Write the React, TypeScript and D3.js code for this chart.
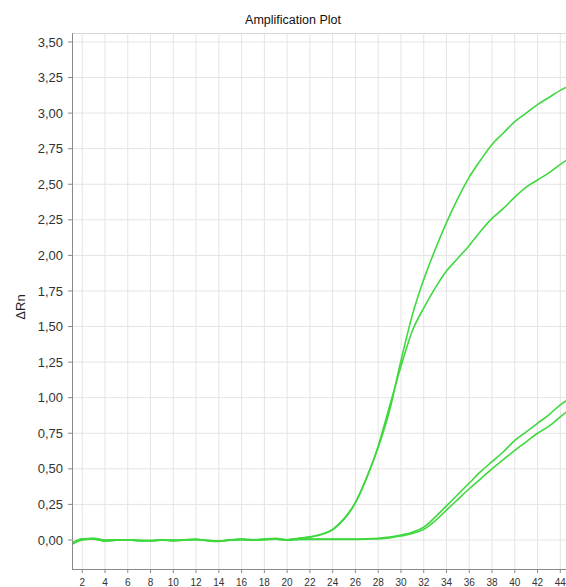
import React from 'react';
import * as d3 from 'd3';

const cycles = [1, 2, 3, 4, 5, 6, 7, 8, 9, 10, 11, 12, 13, 14, 15, 16, 17, 18, 19, 20, 21, 22, 23, 24, 25, 26, 27, 28, 29, 30, 31, 32, 33, 34, 35, 36, 37, 38, 39, 40, 41, 42, 43, 44, 45];

const wellA = [-0.03, 0.005, 0.01, -0.005, 0.0, 0.0, -0.004, -0.004, 0.0, -0.003, 0.002, 0.005, -0.004, -0.008, 0.0, 0.004, 0.0, 0.006, 0.012, 0.002, 0.012, 0.022, 0.04, 0.075, 0.15, 0.265, 0.44, 0.65, 0.91, 1.26, 1.58, 1.83, 2.04, 2.23, 2.4, 2.55, 2.67, 2.78, 2.86, 2.94, 3.0, 3.06, 3.11, 3.16, 3.2];
const wellB = [-0.025, 0.008, 0.012, 0.0, 0.002, 0.0, -0.002, -0.006, -0.002, 0.0, 0.0, 0.003, -0.002, -0.006, 0.002, 0.006, 0.002, 0.004, 0.008, 0.0, 0.01, 0.02, 0.038, 0.072, 0.145, 0.26, 0.44, 0.66, 0.94, 1.22, 1.47, 1.63, 1.77, 1.89, 1.98, 2.07, 2.17, 2.26, 2.33, 2.41, 2.48, 2.53, 2.58, 2.64, 2.69];
const wellC = [-0.035, 0.0, 0.008, -0.008, -0.002, 0.0, -0.006, -0.004, -0.002, -0.006, -0.002, 0.002, -0.006, -0.01, -0.002, 0.002, -0.002, 0.002, 0.006, -0.002, 0.004, 0.006, 0.006, 0.006, 0.006, 0.006, 0.008, 0.012, 0.02, 0.035, 0.055, 0.09, 0.16, 0.24, 0.32, 0.4, 0.48, 0.55, 0.62, 0.7, 0.76, 0.82, 0.88, 0.95, 1.0];
const wellD = [-0.03, 0.004, 0.006, -0.006, 0.0, 0.002, -0.004, -0.006, 0.0, -0.004, 0.0, 0.004, -0.004, -0.008, 0.0, 0.004, 0.0, 0.004, 0.006, 0.0, 0.004, 0.004, 0.004, 0.004, 0.004, 0.004, 0.006, 0.008, 0.015, 0.028, 0.045, 0.075, 0.135, 0.21, 0.285, 0.36, 0.43, 0.5, 0.565, 0.63, 0.69, 0.75, 0.8, 0.865, 0.93];

const xTicks = [2, 4, 6, 8, 10, 12, 14, 16, 18, 20, 22, 24, 26, 28, 30, 32, 34, 36, 38, 40, 42, 44];
const yTicks = [0, 0.25, 0.5, 0.75, 1.0, 1.25, 1.5, 1.75, 2.0, 2.25, 2.5, 2.75, 3.0, 3.25, 3.5];

const width = 566, height = 587;
const margin = { top: 33, right: 0, bottom: 18, left: 72 };
const font = 'Arial, "Liberation Sans", sans-serif';

const App = () => {
  const x = d3.scaleLinear()
    .domain([1.1, 44.5])
    .range([margin.left, width - margin.right]);
  const y = d3.scaleLinear()
    .domain([-0.204, 3.563])
    .range([height - margin.bottom, margin.top]);

  const line = d3.line<number>()
    .x((d, i) => x(cycles[i]))
    .y(d => y(d))
    .curve(d3.curveMonotoneX);

  const fmt = (v: number) => v.toFixed(2).replace('.', ',');
  const x0 = margin.left, x1 = width - margin.right;
  const y0 = height - margin.bottom, y1 = margin.top;

  return (
    <svg width={width} height={height} style={{ position: 'absolute', left: 0, top: 0, background: '#fff' }}>
      <defs>
        <clipPath id="plot">
          <rect x={x0 + 1} y={y1} width={x1 - x0} height={y0 - y1} />
        </clipPath>
      </defs>
      <rect width={width} height={height} fill="#fff" />

      <text x={293} y={24} textAnchor="middle" fontFamily={font} fontSize={12.5} fill="#111">
        Amplification Plot
      </text>

      {/* grid */}
      {xTicks.map(t => (
        <line key={'gx' + t} x1={x(t)} x2={x(t)} y1={y1} y2={y0} stroke="#e4e4e4" />
      ))}
      {yTicks.map(t => (
        <line key={'gy' + t} x1={x0} x2={x1} y1={y(t)} y2={y(t)} stroke="#e4e4e4" />
      ))}
      <line x1={x0} x2={x1} y1={y1 + 0.5} y2={y1 + 0.5} stroke="#d8d8d8" />

      {/* curves */}
      <g clipPath="url(#plot)" fill="none" stroke="#3fd83f" strokeWidth={1.6}>
        {[wellA, wellB, wellC, wellD].map((w, i) => (
          <path key={i} d={line(w) || ''} />
        ))}
      </g>

      {/* axes */}
      <line x1={x0 + 0.5} x2={x0 + 0.5} y1={y1} y2={y0} stroke="#8a8a8a" />
      <line x1={x0} x2={x1} y1={y0 + 0.5} y2={y0 + 0.5} stroke="#8a8a8a" />
      {yTicks.map(t => (
        <g key={'ty' + t}>
          <line x1={x0 - 4} x2={x0} y1={y(t)} y2={y(t)} stroke="#8a8a8a" />
          <text x={63} y={y(t)} dy="0.35em" textAnchor="end" fontFamily={font} fontSize={13} fill="#333">
            {fmt(t)}
          </text>
        </g>
      ))}
      {xTicks.map(t => (
        <g key={'tx' + t}>
          <line x1={x(t)} x2={x(t)} y1={y0} y2={y0 + 4} stroke="#8a8a8a" />
          <text x={x(t)} y={586} textAnchor="middle" fontFamily={font} fontSize={10} fill="#333">
            {t}
          </text>
        </g>
      ))}

      <text transform={`translate(25,307) rotate(-90)`} textAnchor="middle" fontFamily={font} fontSize={13} fill="#222">
        ΔRn
      </text>
    </svg>
  );
};

export default App;
